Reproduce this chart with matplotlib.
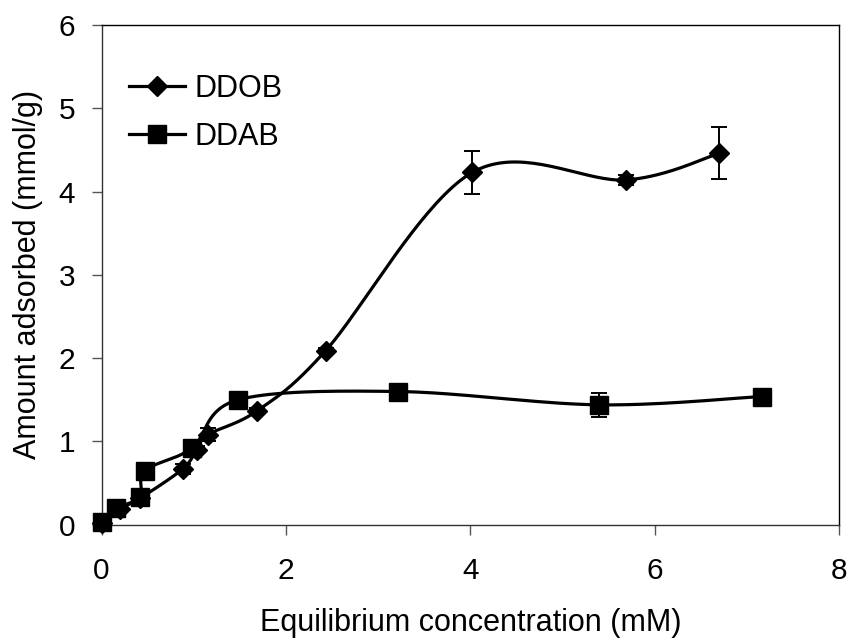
import numpy as np
import matplotlib
matplotlib.use("Agg")
import matplotlib.pyplot as plt

plt.rcParams['font.family'] = ['Liberation Sans', 'DejaVu Sans']

# DDOB series
ddob_x = [0.0, 0.20, 0.42, 0.88, 1.03, 1.15, 1.69, 2.43, 4.02, 5.69, 6.70]
ddob_y = [0.02, 0.19, 0.32, 0.67, 0.90, 1.08, 1.37, 2.09, 4.23, 4.14, 4.46]
ddob_err = [0.0, 0.02, 0.03, 0.06, 0.04, 0.08, 0.03, 0.03, 0.26, 0.06, 0.31]

# DDAB series
ddab_x = [0.0, 0.16, 0.415, 0.47, 0.98, 1.48, 3.22, 5.39, 7.16]
ddab_y = [0.03, 0.20, 0.33, 0.65, 0.92, 1.50, 1.60, 1.44, 1.54]
ddab_err = [0.0, 0.02, 0.02, 0.03, 0.04, 0.05, 0.04, 0.14, 0.04]

xticks = [0, 2, 4, 6, 8]
yticks = [0, 1, 2, 3, 4, 5, 6]


def smooth(xs, ys, n=40):
    """Catmull-Rom style smoothing (similar to Excel smoothed lines)."""
    xs = np.asarray(xs, float)
    ys = np.asarray(ys, float)
    P = np.column_stack([xs, ys])
    out = []
    for i in range(len(P) - 1):
        p0 = P[i - 1] if i > 0 else P[i]
        p1 = P[i]
        p2 = P[i + 1]
        p3 = P[i + 2] if i + 2 < len(P) else P[i + 1]
        c1 = p1 + (p2 - p0) / 6.0
        c2 = p2 - (p3 - p1) / 6.0
        t = np.linspace(0, 1, n)[:, None]
        seg = ((1 - t) ** 3) * p1 + 3 * ((1 - t) ** 2) * t * c1 + 3 * (1 - t) * t ** 2 * c2 + t ** 3 * p2
        out.append(seg if i == 0 else seg[1:])
    S = np.vstack(out)
    return S[:, 0], S[:, 1]


fig = plt.figure(figsize=(8.53, 6.4), dpi=100)
ax = fig.add_axes([0.119, 0.18, 0.865, 0.781])

lw = 2.3
for xs, ys, errs, mk, ms, lab in [
    (ddob_x, ddob_y, ddob_err, 'D', 10, 'DDOB'),
    (ddab_x, ddab_y, ddab_err, 's', 13.5, 'DDAB'),
]:
    sx, sy = smooth(xs, ys)
    ax.plot(sx, sy, color='black', lw=lw, clip_on=False, zorder=2)
    ax.errorbar(xs, ys, yerr=errs, fmt='none', ecolor='black', elinewidth=1.4,
                capsize=6, capthick=1.4, clip_on=False, zorder=3)
    ax.plot(xs, ys, linestyle='none', marker=mk, markersize=ms, color='black',
            clip_on=False, zorder=4)
    ax.plot([], [], color='black', lw=lw, marker=mk, markersize=ms, label=lab)

ax.set_xlim(0, 8)
ax.set_ylim(0, 6)
ax.set_xticks(xticks)
ax.set_yticks(yticks)
ax.set_xticklabels([str(v) for v in xticks])
ax.set_yticklabels([str(v) for v in yticks])
ax.tick_params(axis='both', direction='out', length=7, width=1, labelsize=21.5, color='#555555')
ax.tick_params(axis='x', pad=16)
ax.tick_params(axis='y', pad=12)
for name, sp in ax.spines.items():
    sp.set_linewidth(1.0)
    sp.set_color('#333333' if name in ('left', 'bottom') else 'black')

ax.set_xlabel('Equilibrium concentration (mM)', fontsize=22, labelpad=17)
ax.set_ylabel('Amount adsorbed (mmol/g)', fontsize=22, labelpad=11)

leg = ax.legend(loc='upper left', bbox_to_anchor=(0.008, 0.945), frameon=False,
                fontsize=22, handlelength=1.85, handletextpad=0.3, labelspacing=0.6,
                borderaxespad=0.3)

fig.savefig('out.png', dpi=100)
